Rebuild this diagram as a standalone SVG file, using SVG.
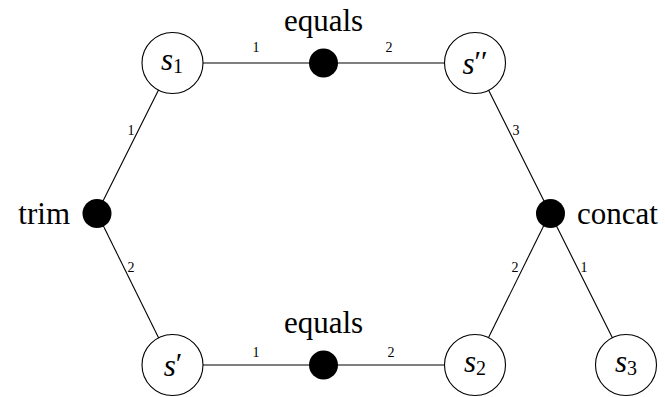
<svg xmlns="http://www.w3.org/2000/svg" width="665" height="397" viewBox="0 0 665 397" font-family="Liberation Serif, DejaVu Serif, serif">
<style>
.edge{stroke:#000;stroke-width:1.1;fill:none}
.var{fill:#fff;stroke:#000;stroke-width:1.1}
.fac{fill:#000}
.word{font-size:31px}
.math{font-size:31px;font-style:italic}
.sub{font-style:normal;font-size:20px}
.pr{font-style:normal;font-size:30px}
.lbl{font-size:14px}
</style>
<rect width="665" height="397" fill="#fff"/>
<g id="connectors">
<line class="edge" x1="172" y1="63" x2="323" y2="63"/>
<line class="edge" x1="323" y1="63" x2="475" y2="63"/>
<line class="edge" x1="172" y1="63" x2="97" y2="213"/>
<line class="edge" x1="97" y1="213" x2="172" y2="365"/>
<line class="edge" x1="475" y1="63" x2="550" y2="213"/>
<line class="edge" x1="550" y1="213" x2="475" y2="365"/>
<line class="edge" x1="550" y1="213" x2="626" y2="365"/>
<line class="edge" x1="172" y1="365" x2="323" y2="365"/>
<line class="edge" x1="323" y1="365" x2="475" y2="365"/>
<text class="lbl" x="256" y="52" text-anchor="middle">1</text>
<text class="lbl" x="389" y="52" text-anchor="middle">2</text>
<text class="lbl" x="256" y="357" text-anchor="middle">1</text>
<text class="lbl" x="391" y="357" text-anchor="middle">2</text>
<text class="lbl" x="131" y="135" text-anchor="middle">1</text>
<text class="lbl" x="131" y="272" text-anchor="middle">2</text>
<text class="lbl" x="516" y="135" text-anchor="middle">3</text>
<text class="lbl" x="515" y="272" text-anchor="middle">2</text>
<text class="lbl" x="584" y="272" text-anchor="middle">1</text>
</g>
<g id="s1">
<circle class="var" cx="172.5" cy="63" r="30.5"/>
<text class="math" x="172" y="70" text-anchor="middle">s<tspan class="sub" dy="3">1</tspan></text>
</g>
<g id="s2pp">
<circle class="var" cx="475" cy="63" r="30.5"/>
<text class="math" x="475" y="74" text-anchor="middle">s<tspan class="pr" dy="-3">′′</tspan></text>
</g>
<g id="sp">
<circle class="var" cx="172.5" cy="365" r="30.5"/>
<text class="math" x="173" y="376" text-anchor="middle">s<tspan class="pr" dy="-3">′</tspan></text>
</g>
<g id="s2">
<circle class="var" cx="475" cy="365" r="30.5"/>
<text class="math" x="475" y="372" text-anchor="middle">s<tspan class="sub" dy="3">2</tspan></text>
</g>
<g id="s3">
<circle class="var" cx="626" cy="365" r="30.5"/>
<text class="math" x="626" y="372" text-anchor="middle">s<tspan class="sub" dy="3">3</tspan></text>
</g>
<g id="equals_top">
<circle class="fac" cx="323.5" cy="63" r="14.5"/>
<text class="word" x="323.5" y="31" text-anchor="middle">equals</text>
</g>
<g id="equals_bottom">
<circle class="fac" cx="323.5" cy="365" r="14.5"/>
<text class="word" x="323.5" y="333" text-anchor="middle">equals</text>
</g>
<g id="trim">
<circle class="fac" cx="97" cy="213.5" r="14.5"/>
<text class="word" x="70" y="224" text-anchor="end">trim</text>
</g>
<g id="concat">
<circle class="fac" cx="550.5" cy="213.5" r="14.5"/>
<text class="word" x="577" y="224">concat</text>
</g>
</svg>
